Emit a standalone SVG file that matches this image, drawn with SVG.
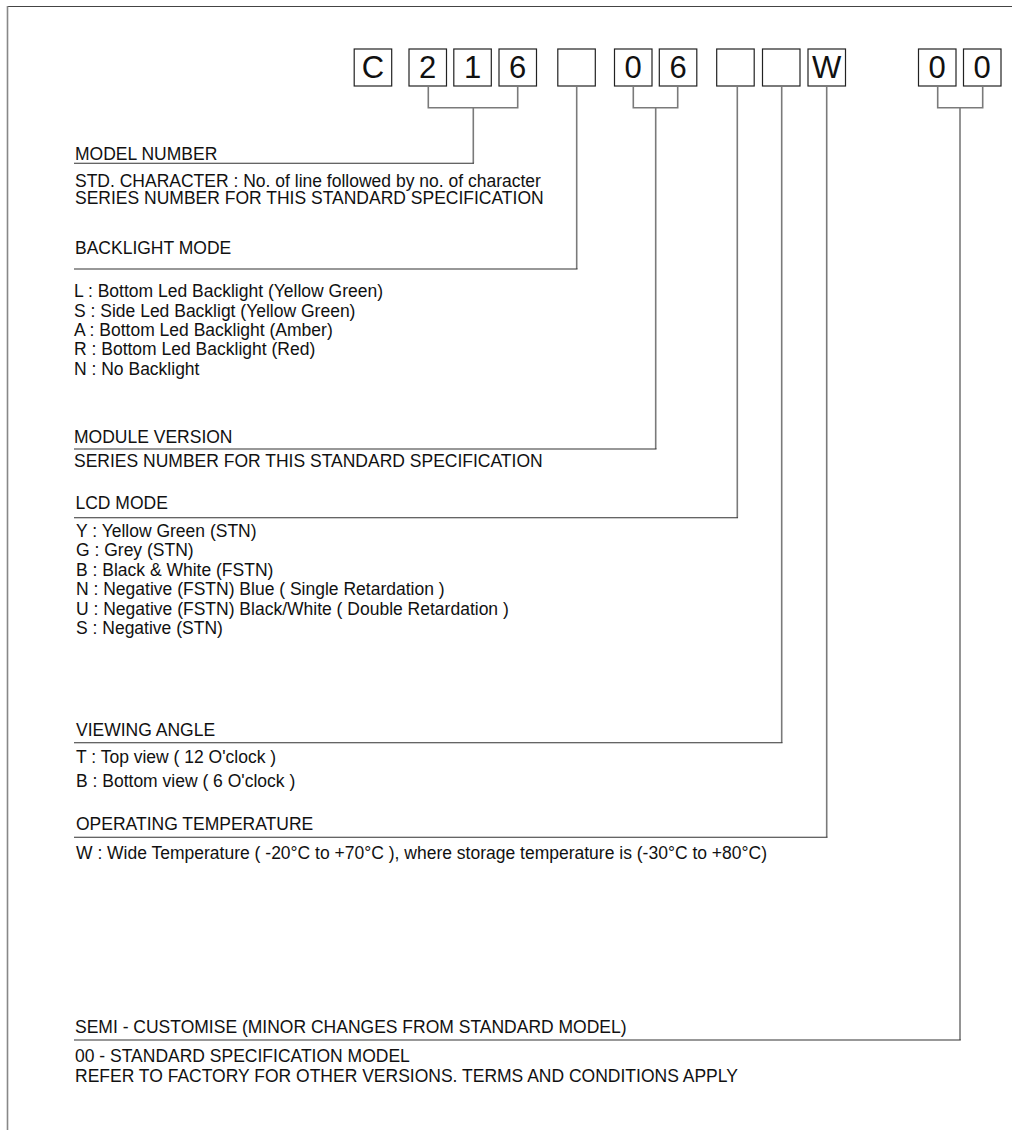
<svg xmlns="http://www.w3.org/2000/svg" width="1012" height="1130" viewBox="0 0 1012 1130">
<style>
.bx{fill:#fff;stroke:#222;stroke-width:1.2}
.dg{font-family:"Liberation Sans",Arial,sans-serif;font-size:31px;fill:#111;text-anchor:middle}
.t{font-family:"Liberation Sans",Arial,sans-serif;font-size:17.5px;fill:#111}
.v{fill:none;stroke:#7a7a7a;stroke-width:1.6}
.h{fill:none;stroke:#333;stroke-width:1.1}
</style>
<rect width="1012" height="1130" fill="#fff"/>
<g id="border">
<line x1="7" y1="6.5" x2="1012" y2="6.5" stroke="#444" stroke-width="1.2"/>
<line x1="7.5" y1="6" x2="7.5" y2="1130" stroke="#888" stroke-width="1.6"/>
</g>
<g id="code-boxes">
<g id="box-C"><rect class="bx" x="354.2" y="49" width="37.5" height="37"/><text class="dg" x="373" y="78.3">C</text></g>
<g id="box-2"><rect class="bx" x="409" y="49" width="37.5" height="37"/><text class="dg" x="427.7" y="78.3">2</text></g>
<g id="box-1"><rect class="bx" x="453.8" y="49" width="37.5" height="37"/><text class="dg" x="472.5" y="78.3">1</text></g>
<g id="box-6a"><rect class="bx" x="499" y="49" width="37.5" height="37"/><text class="dg" x="517.7" y="78.3">6</text></g>
<g id="box-blank1"><rect class="bx" x="557.8" y="49" width="37.5" height="37"/></g>
<g id="box-0a"><rect class="bx" x="614.5" y="49" width="37.5" height="37"/><text class="dg" x="633.2" y="78.3">0</text></g>
<g id="box-6b"><rect class="bx" x="659.3" y="49" width="37.5" height="37"/><text class="dg" x="678" y="78.3">6</text></g>
<g id="box-blank2"><rect class="bx" x="716.7" y="49" width="37.5" height="37"/></g>
<g id="box-blank3"><rect class="bx" x="762.5" y="49" width="37.5" height="37"/></g>
<g id="box-W"><rect class="bx" x="808" y="49" width="37.5" height="37"/><text class="dg" x="826.7" y="78.3">W</text></g>
<g id="box-0b"><rect class="bx" x="918.5" y="49" width="37.5" height="37"/><text class="dg" x="937.2" y="78.3">0</text></g>
<g id="box-0c"><rect class="bx" x="963.5" y="49" width="37.5" height="37"/><text class="dg" x="982.2" y="78.3">0</text></g>
</g>
<g id="connectors">
<path class="v" d="M428.3 86V107.7H517.7V86M473.3 107.7V163.3"/>
<path class="v" d="M576.7 86V269"/>
<path class="v" d="M633.3 86V107.7H677.7V86M655.7 107.7V449"/>
<path class="v" d="M737.3 86V517.7"/>
<path class="v" d="M781.7 86V742.7"/>
<path class="v" d="M826.7 86V837.3"/>
<path class="v" d="M937.7 86V107.7H982.7V86M960 107.7V1040"/>
<path class="h" d="M74 163.3H474M74 269H577.5M74 449H656.5M74 517.7H738M74 742.7H782.5M74 837.3H827.5M74 1040H960.8"/>
</g>
<g id="model-number">
<text class="t" x="75" y="160">MODEL NUMBER</text>
<text class="t" x="75" y="187.3">STD. CHARACTER : No. of line followed by no. of character</text>
<text class="t" x="75" y="204">SERIES NUMBER FOR THIS STANDARD SPECIFICATION</text>
</g>
<g id="backlight-mode">
<text class="t" x="75" y="254">BACKLIGHT MODE</text>
<text class="t" x="74" y="297.3">L : Bottom Led Backlight (Yellow Green)</text>
<text class="t" x="74" y="316.7">S : Side Led Backligt (Yellow Green)</text>
<text class="t" x="74" y="336">A : Bottom Led Backlight (Amber)</text>
<text class="t" x="74" y="355.3">R : Bottom Led Backlight (Red)</text>
<text class="t" x="74" y="374.7">N : No Backlight</text>
</g>
<g id="module-version">
<text class="t" x="74" y="443.3">MODULE VERSION</text>
<text class="t" x="74" y="467">SERIES NUMBER FOR THIS STANDARD SPECIFICATION</text>
</g>
<g id="lcd-mode">
<text class="t" x="75.5" y="509.3">LCD MODE</text>
<text class="t" x="76" y="536.7">Y : Yellow Green (STN)</text>
<text class="t" x="76" y="556.2">G : Grey (STN)</text>
<text class="t" x="76" y="575.7">B : Black &amp; White (FSTN)</text>
<text class="t" x="76" y="595.2">N : Negative (FSTN) Blue ( Single Retardation )</text>
<text class="t" x="76" y="614.7">U : Negative (FSTN) Black/White ( Double Retardation )</text>
<text class="t" x="76" y="634.2">S : Negative (STN)</text>
</g>
<g id="viewing-angle">
<text class="t" x="76" y="735.7">VIEWING ANGLE</text>
<text class="t" x="76" y="763.3">T : Top view ( 12 O'clock )</text>
<text class="t" x="76" y="787">B : Bottom view ( 6 O'clock )</text>
</g>
<g id="operating-temperature">
<text class="t" x="76" y="830">OPERATING TEMPERATURE</text>
<text class="t" x="76" y="859.3">W : Wide Temperature ( -20°C to +70°C ), where storage temperature is (-30°C to +80°C)</text>
</g>
<g id="semi-customise">
<text class="t" x="75" y="1033.3">SEMI - CUSTOMISE (MINOR CHANGES FROM STANDARD MODEL)</text>
<text class="t" x="75" y="1061.7">00 - STANDARD SPECIFICATION MODEL</text>
<text class="t" x="75" y="1081.7">REFER TO FACTORY FOR OTHER VERSIONS. TERMS AND CONDITIONS APPLY</text>
</g>
</svg>
